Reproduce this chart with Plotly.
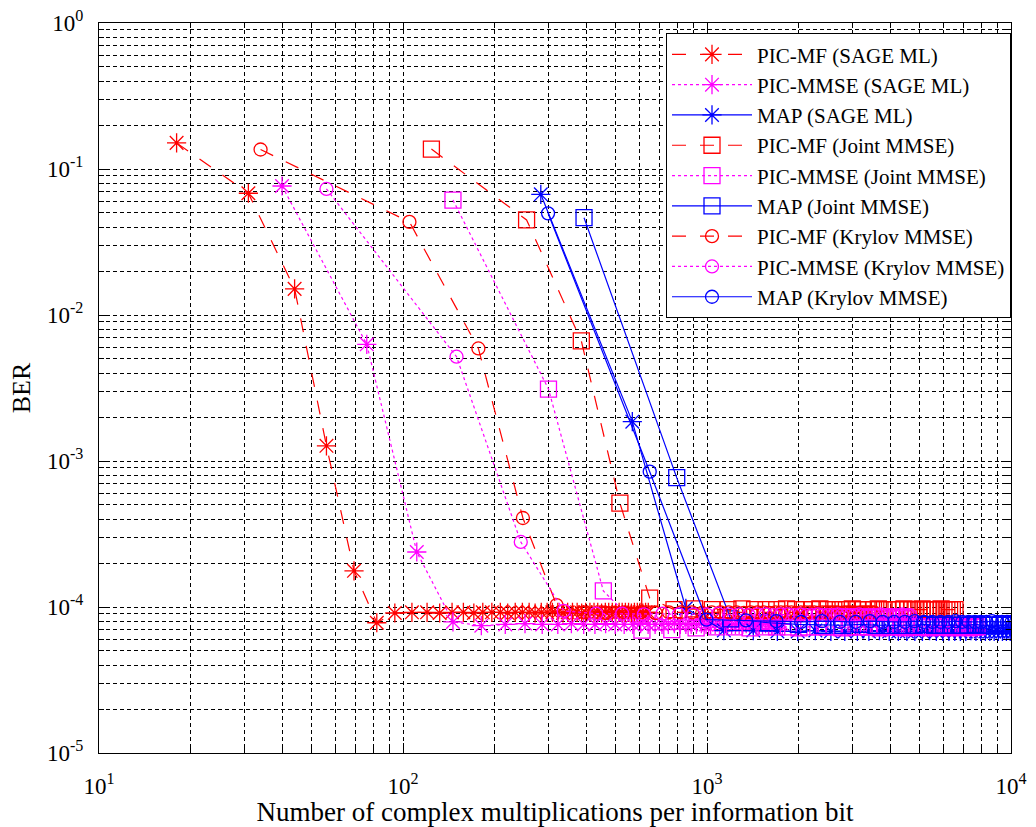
import plotly.graph_objects as go

# ---------------- data ----------------
x_picmf_sage = [18, 31, 44, 56, 69, 82, 94, 107, 120, 132,
                145, 158, 171, 183, 196, 209, 221, 234, 247, 260,
                272, 285, 298, 310, 323, 336, 348, 361, 374, 387,
                399, 412, 425, 437, 450, 463, 475, 488, 501, 514,
                526, 539, 552, 564, 577, 590, 602, 615, 628, 641]
y_picmf_sage = [0.151, 0.0682, 0.0151, 1.27e-3, 1.77e-4, 7.8e-5, 9.1e-5, 9.2e-5, 9.2e-5, 9.1e-5,
                9.2e-5, 9.2e-5, 9.1e-5, 9.2e-5, 9.2e-5, 9.2e-5, 9.1e-5, 9.2e-5, 9.2e-5, 9.2e-5,
                9.1e-5, 9.2e-5, 9.2e-5, 9.2e-5, 9.2e-5, 9.1e-5, 9.2e-5, 9.2e-5, 9.2e-5, 9.1e-5,
                9.2e-5, 9.2e-5, 9.2e-5, 9.2e-5, 9.1e-5, 9.2e-5, 9.2e-5, 9.2e-5, 9.1e-5, 9.2e-5,
                9.2e-5, 9.2e-5, 9.2e-5, 9.1e-5, 9.2e-5, 9.2e-5, 9.2e-5, 9.1e-5, 9.2e-5, 9.2e-5]

x_picmmse_sage = [40, 76, 111, 146, 181, 217, 252, 287, 323, 358,
                  393, 428, 464, 499, 534, 570, 605, 640, 675, 711,
                  746, 781, 817, 852, 887, 923, 958, 993, 1028, 1064,
                  1099, 1134, 1170, 1205, 1240, 1276, 1311, 1346, 1381, 1417,
                  1452, 1487, 1523, 1558, 1593, 1629, 1664, 1699, 1734, 1770]
y_picmmse_sage = [0.0765, 6.3e-3, 2.38e-4, 7.9e-5, 7.45e-5, 7.6e-5, 7.7e-5, 7.6e-5, 7.6e-5, 7.7e-5,
                  7.6e-5, 7.6e-5, 7.7e-5, 7.6e-5, 7.6e-5, 7.6e-5, 7.7e-5, 7.6e-5, 7.6e-5, 7.6e-5,
                  7.6e-5, 7.7e-5, 7.6e-5, 7.6e-5, 7.6e-5, 7.6e-5, 7.7e-5, 7.6e-5, 7.6e-5, 7.6e-5,
                  7.6e-5, 7.6e-5, 7.7e-5, 7.6e-5, 7.6e-5, 7.6e-5, 7.6e-5, 7.7e-5, 7.6e-5, 7.6e-5,
                  7.6e-5, 7.6e-5, 7.6e-5, 7.7e-5, 7.6e-5, 7.6e-5, 7.6e-5, 7.6e-5, 7.6e-5, 7.6e-5]

x_map_sage = [284, 568, 852, 1136, 1420, 1704, 1988, 2272, 2556, 2840,
              3124, 3408, 3692, 3976, 4260, 4544, 4828, 5112, 5396, 5680,
              5964, 6248, 6532, 6816, 7100, 7384, 7668, 7952, 8236, 8520,
              8804, 9088, 9372, 9656, 9940, 10224]
y_map_sage = [0.0671, 1.86e-3, 9.8e-5, 6.9e-5, 6.9e-5, 6.8e-5, 6.8e-5, 6.9e-5, 6.8e-5, 6.8e-5,
              6.8e-5, 6.8e-5, 6.9e-5, 6.8e-5, 6.8e-5, 6.8e-5, 6.8e-5, 6.8e-5, 6.9e-5, 6.8e-5,
              6.8e-5, 6.8e-5, 6.8e-5, 6.8e-5, 6.8e-5, 6.9e-5, 6.8e-5, 6.8e-5, 6.8e-5, 6.8e-5,
              6.8e-5, 6.8e-5, 6.8e-5, 6.8e-5, 6.8e-5, 6.8e-5]

x_picmf_joint = [124, 255, 386, 517, 648, 779, 910, 1041, 1172, 1303,
                 1434, 1565, 1696, 1827, 1958, 2089, 2220, 2351, 2482, 2613,
                 2744, 2875, 3006, 3137, 3268, 3399, 3530, 3661, 3792, 3923,
                 4054, 4185, 4316, 4447, 4578, 4709, 4840, 4971, 5102, 5233,
                 5364, 5495, 5626, 5757, 5888, 6019, 6150, 6281, 6412, 6543]
y_picmf_joint = [0.137, 0.0448, 6.64e-3, 5.15e-4, 1.15e-4, 9.6e-5, 9.7e-5, 9.6e-5, 9.6e-5, 9.7e-5,
                 9.6e-5, 9.6e-5, 9.6e-5, 9.7e-5, 9.6e-5, 9.6e-5, 9.6e-5, 9.7e-5, 9.6e-5, 9.6e-5,
                 9.6e-5, 9.6e-5, 9.7e-5, 9.6e-5, 9.6e-5, 9.6e-5, 9.6e-5, 9.7e-5, 9.6e-5, 9.6e-5,
                 9.6e-5, 9.6e-5, 9.6e-5, 9.7e-5, 9.6e-5, 9.6e-5, 9.6e-5, 9.6e-5, 9.7e-5, 9.6e-5,
                 9.6e-5, 9.6e-5, 9.6e-5, 9.6e-5, 9.7e-5, 9.6e-5, 9.6e-5, 9.6e-5, 9.6e-5, 9.6e-5]

x_picmmse_joint = [146, 301, 456, 611, 766, 921, 1076, 1231, 1386, 1541,
                   1696, 1851, 2006, 2161, 2316, 2471, 2626, 2781, 2936, 3091,
                   3246, 3401, 3556, 3711, 3866, 4021, 4176, 4331, 4486, 4641,
                   4796, 4951, 5106, 5261, 5416, 5571, 5726, 5881, 6036, 6191,
                   6346, 6501, 6656, 6811, 6966, 7121, 7276, 7431, 7586, 7741]
y_picmmse_joint = [0.0613, 3.11e-3, 1.29e-4, 6.95e-5, 7.0e-5, 7.2e-5, 7.3e-5, 7.3e-5, 7.2e-5, 7.3e-5,
                   7.3e-5, 7.3e-5, 7.2e-5, 7.3e-5, 7.3e-5, 7.3e-5, 7.3e-5, 7.2e-5, 7.3e-5, 7.3e-5,
                   7.3e-5, 7.3e-5, 7.3e-5, 7.2e-5, 7.3e-5, 7.3e-5, 7.3e-5, 7.3e-5, 7.2e-5, 7.3e-5,
                   7.3e-5, 7.3e-5, 7.3e-5, 7.3e-5, 7.2e-5, 7.3e-5, 7.3e-5, 7.3e-5, 7.3e-5, 7.3e-5,
                   7.2e-5, 7.3e-5, 7.3e-5, 7.3e-5, 7.3e-5, 7.3e-5, 7.2e-5, 7.3e-5, 7.3e-5, 7.3e-5]

x_map_joint = [394, 795, 1196, 1597, 1998, 2399, 2800, 3201, 3602, 4003,
               4404, 4805, 5206, 5607, 6008, 6409, 6810, 7211, 7612, 8013,
               8414, 8815, 9216, 9617, 10018, 10419]
y_map_joint = [0.0464, 7.69e-4, 8.3e-5, 7.8e-5, 7.6e-5, 7.5e-5, 7.5e-5, 7.6e-5, 7.5e-5, 7.5e-5,
               7.5e-5, 7.5e-5, 7.6e-5, 7.5e-5, 7.5e-5, 7.5e-5, 7.5e-5, 7.5e-5, 7.6e-5, 7.5e-5,
               7.5e-5, 7.5e-5, 7.5e-5, 7.5e-5, 7.5e-5, 7.5e-5]

x_picmf_krylov = [34, 105, 177, 248, 320, 392, 463, 535, 606, 678,
                  749, 821, 892, 964, 1036, 1107, 1179, 1250, 1322, 1393,
                  1465, 1536, 1608, 1679, 1751, 1823, 1894, 1966, 2037, 2109,
                  2180, 2252, 2323, 2395, 2467, 2538, 2610, 2681, 2753, 2824,
                  2896, 2967, 3039, 3110, 3182, 3254, 3325, 3397, 3468, 3540]
y_picmf_krylov = [0.136, 0.0434, 5.9e-3, 4.07e-4, 1.03e-4, 9.2e-5, 9.1e-5, 9.2e-5, 9.2e-5, 9.1e-5,
                  9.2e-5, 9.2e-5, 9.2e-5, 9.1e-5, 9.2e-5, 9.2e-5, 9.2e-5, 9.2e-5, 9.1e-5, 9.2e-5,
                  9.2e-5, 9.2e-5, 9.1e-5, 9.2e-5, 9.2e-5, 9.2e-5, 9.2e-5, 9.1e-5, 9.2e-5, 9.2e-5,
                  9.2e-5, 9.2e-5, 9.1e-5, 9.2e-5, 9.2e-5, 9.2e-5, 9.2e-5, 9.2e-5, 9.1e-5, 9.2e-5,
                  9.2e-5, 9.2e-5, 9.2e-5, 9.1e-5, 9.2e-5, 9.2e-5, 9.2e-5, 9.2e-5, 9.2e-5, 9.2e-5]

x_picmmse_krylov = [56, 150, 244, 338, 432, 526, 620, 714, 808, 902,
                    996, 1090, 1184, 1278, 1372, 1466, 1560, 1654, 1748, 1842,
                    1936, 2030, 2124, 2218, 2312, 2406, 2500, 2594, 2688, 2782,
                    2876, 2970, 3064, 3158, 3252, 3346, 3440, 3534, 3628, 3722,
                    3816, 3910, 4004, 4098, 4192, 4286, 4380, 4474, 4568, 4662]
y_picmmse_krylov = [0.073, 5.18e-3, 2.79e-4, 9.4e-5, 9.0e-5, 9.0e-5, 8.9e-5, 9.0e-5, 8.9e-5, 8.9e-5,
                    8.9e-5, 9.0e-5, 8.9e-5, 8.9e-5, 8.8e-5, 8.9e-5, 8.9e-5, 8.8e-5, 8.9e-5, 8.9e-5,
                    8.8e-5, 8.9e-5, 8.8e-5, 8.8e-5, 8.9e-5, 8.8e-5, 8.8e-5, 8.8e-5, 8.9e-5, 8.8e-5,
                    8.8e-5, 8.8e-5, 8.8e-5, 8.9e-5, 8.8e-5, 8.8e-5, 8.8e-5, 8.8e-5, 8.8e-5, 8.9e-5,
                    8.8e-5, 8.8e-5, 8.8e-5, 8.8e-5, 8.8e-5, 8.8e-5, 8.9e-5, 8.8e-5, 8.8e-5, 8.8e-5]

x_map_krylov = [300, 648, 996, 1344, 1692, 2040, 2388, 2736, 3084, 3432,
                3780, 4128, 4476, 4824, 5172, 5520, 5868, 6216, 6564, 6912,
                7260, 7608, 7956, 8304, 8652, 9000, 9348, 9696, 10044, 10392]
y_map_krylov = [0.0497, 8.45e-4, 8.2e-5, 8.1e-5, 8.0e-5, 7.9e-5, 8.0e-5, 7.9e-5, 7.9e-5, 8.0e-5,
                7.9e-5, 7.9e-5, 7.9e-5, 8.0e-5, 7.9e-5, 7.9e-5, 7.9e-5, 7.9e-5, 8.0e-5, 7.9e-5,
                7.9e-5, 7.9e-5, 7.9e-5, 7.9e-5, 8.0e-5, 7.9e-5, 7.9e-5, 7.9e-5, 7.9e-5, 7.9e-5]

x_tickvals = [10, 100, 1000, 10000]
x_ticktext = ["10<sup>1</sup>", "10<sup>2</sup>", "10<sup>3</sup>", "10<sup>4</sup>"]
y_tickvals = [1e-5, 1e-4, 1e-3, 1e-2, 1e-1, 1]
y_ticktext = ["10<sup>-5</sup>", "10<sup>-4</sup>", "10<sup>-3</sup>", "10<sup>-2</sup>",
              "10<sup>-1</sup>", "10<sup>0</sup>"]
x_minor = [m * d for d in (10, 100, 1000) for m in range(2, 10)]
y_minor = [m * d for d in (1e-5, 1e-4, 1e-3, 1e-2, 1e-1) for m in range(2, 10)]

RED, MAG, BLUE = "#FF0000", "#FF00FF", "#0000FF"
DASH_MF = "14px,14px"
DASH_MMSE = "3px,3px"

series = [
    ("PIC-MF (SAGE ML)", x_picmf_sage, y_picmf_sage, RED, DASH_MF, "asterisk-open", 16),
    ("PIC-MMSE (SAGE ML)", x_picmmse_sage, y_picmmse_sage, MAG, DASH_MMSE, "asterisk-open", 16),
    ("MAP (SAGE ML)", x_map_sage, y_map_sage, BLUE, "solid", "asterisk-open", 16),
    ("PIC-MF (Joint MMSE)", x_picmf_joint, y_picmf_joint, RED, DASH_MF, "square-open", 16),
    ("PIC-MMSE (Joint MMSE)", x_picmmse_joint, y_picmmse_joint, MAG, DASH_MMSE, "square-open", 16),
    ("MAP (Joint MMSE)", x_map_joint, y_map_joint, BLUE, "solid", "square-open", 16),
    ("PIC-MF (Krylov MMSE)", x_picmf_krylov, y_picmf_krylov, RED, DASH_MF, "circle-open", 13),
    ("PIC-MMSE (Krylov MMSE)", x_picmmse_krylov, y_picmmse_krylov, MAG, DASH_MMSE, "circle-open", 13),
    ("MAP (Krylov MMSE)", x_map_krylov, y_map_krylov, BLUE, "solid", "circle-open", 13),
]

fig = go.Figure()
for name, xs, ys, col, dash, sym, sz in series:
    fig.add_trace(go.Scatter(
        x=xs, y=ys, name=name, mode="lines+markers",
        line=dict(color=col, width=1.2, dash=dash),
        marker=dict(symbol=sym, size=sz, color=col, line=dict(color=col, width=1.3)),
    ))

grid = dict(gridcolor="black", gridwidth=1.2, griddash="4px,3px")

fig.update_layout(
    width=1036, height=827,
    margin=dict(l=99, r=25, t=23, b=74),
    plot_bgcolor="white", paper_bgcolor="white",
    font=dict(family="Liberation Serif", color="black"),
    showlegend=True,
    legend=dict(x=1.0, y=0.986, xanchor="right", yanchor="top",
                bgcolor="white", bordercolor="black", borderwidth=1,
                font=dict(size=21, family="Liberation Serif"), itemwidth=80,
                tracegroupgap=0),
    xaxis=dict(type="log", range=[1, 4], tickmode="array", automargin=False,
               tickvals=x_tickvals, ticktext=x_ticktext,
               ticks="inside", ticklen=10, tickcolor="black", tickwidth=1,
               showline=True, linecolor="black", linewidth=1.2, mirror="ticks",
               showgrid=True, zeroline=False, **grid,
               minor=dict(tickmode="array", tickvals=x_minor, ticks="inside", ticklen=5,
                          tickcolor="black", showgrid=True, **grid),
               tickfont=dict(size=23), ticklabelstandoff=12,
               title=dict(text="Number of complex multiplications per information bit",
                          font=dict(size=27), standoff=8)),
    yaxis=dict(type="log", range=[-5, 0], tickmode="array", automargin=False,
               tickvals=y_tickvals, ticktext=y_ticktext,
               ticks="inside", ticklen=10, tickcolor="black", tickwidth=1,
               showline=True, linecolor="black", linewidth=1.2, mirror="ticks",
               showgrid=True, zeroline=False, **grid,
               minor=dict(tickmode="array", tickvals=y_minor, ticks="inside", ticklen=5,
                          tickcolor="black", showgrid=True, **grid),
               tickfont=dict(size=23), ticklabelstandoff=10,
               title=dict(text="BER", font=dict(size=26), standoff=8)),
)

fig.write_html("out.html")
